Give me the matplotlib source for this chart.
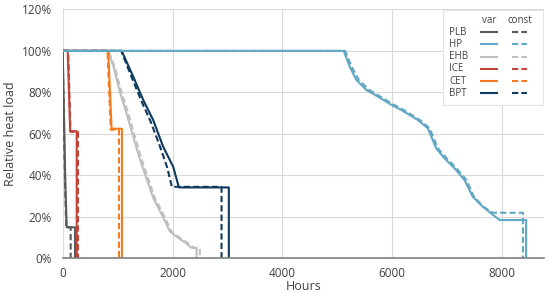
import matplotlib
matplotlib.use("Agg")
import matplotlib.pyplot as plt
from matplotlib.lines import Line2D
from matplotlib.patches import Rectangle

plt.rcParams['font.family'] = ['Open Sans', 'DejaVu Sans']

# load duration curves, hours vs relative heat load (%)
plb_var_h = [0, 30, 48, 73, 224, 224]
plb_var = [100, 60, 36, 15, 15, 0]
plb_const_h = [0, 25, 42, 65, 145, 145]
plb_const = [100, 60, 36, 15, 15, 0]

hp_var_h = [0, 5115, 5225, 5345, 5527, 5800, 5982, 6164, 6465, 6647, 6709, 6800,
            6951, 7133, 7313, 7465, 7647, 7951, 8436, 8436]
hp_var = [100, 100, 92.4, 86, 81.2, 77, 74, 71.5, 66.7, 62.7, 58.7, 53,
          48.2, 43.4, 37.8, 29.7, 24.9, 18.5, 18.5, 0]
hp_const_h = [0, 5140, 5260, 5390, 5580, 5840, 6030, 6210, 6500, 6680, 6740, 6830,
              6990, 7170, 7350, 7480, 7650, 7829, 8378, 8378]
hp_const = [100, 100, 92.4, 86, 81.2, 77, 74, 71.5, 66.7, 62.7, 58.7, 53,
            48.2, 43.4, 37.8, 30, 25, 22, 22, 0]

ehb_var_h = [0, 829, 930, 1042, 1150, 1269, 1390, 1505, 1650, 1824, 1951, 2096,
             2255, 2330, 2436, 2436]
ehb_var = [100, 100, 92, 80, 71, 60, 49, 40, 29, 20, 13, 10, 7.2, 5.3, 4.8, 0]
ehb_const_h = [0, 835, 950, 1070, 1180, 1300, 1420, 1535, 1680, 1855, 1980, 2130,
               2290, 2380, 2496, 2496]
ehb_const = [100, 100, 92, 80, 71, 60, 49, 40, 29, 20, 13, 10, 7.2, 5.3, 4.8, 0]

ice_var_h = [0, 91, 136, 255, 255]
ice_var = [100, 100, 61.3, 61.3, 0]
ice_const_h = [0, 100, 142, 278, 278]
ice_const = [100, 100, 61, 61, 0]

cet_var_h = [0, 829, 890, 1078, 1078]
cet_var = [100, 100, 62.5, 62.5, 0]
cet_const_h = [0, 815, 875, 1024, 1024]
cet_const = [100, 100, 62, 62, 0]

bpt_var_h = [0, 1073, 1284, 1465, 1647, 1829, 2011, 2115, 3024, 3024]
bpt_var = [100, 100, 87.6, 76.4, 66.7, 53.8, 44.2, 34.2, 34.2, 0]
bpt_const_h = [0, 1065, 1260, 1430, 1600, 1770, 1900, 1987, 2891, 2891]
bpt_const = [100, 100, 87, 76, 66, 54, 44, 34.5, 34.5, 0]

names = ['PLB', 'HP', 'EHB', 'ICE', 'CET', 'BPT']
colors = ['#595959', '#62A8C4', '#BFBFBF', '#C0443A', '#F47B20', '#0E3A5F']
series = [
    (plb_var_h, plb_var, plb_const_h, plb_const),
    (hp_var_h, hp_var, hp_const_h, hp_const),
    (ehb_var_h, ehb_var, ehb_const_h, ehb_const),
    (ice_var_h, ice_var, ice_const_h, ice_const),
    (cet_var_h, cet_var, cet_const_h, cet_const),
    (bpt_var_h, bpt_var, bpt_const_h, bpt_const),
]

fig = plt.figure(figsize=(5.5, 2.93), dpi=100)
ax = fig.add_axes([0.114, 0.118, 0.875, 0.850])

for name, c, s in zip(names, colors, series):
    z = 5 if name == 'HP' else 3
    ax.plot(s[0], s[1], color=c, lw=1.5, zorder=z)
    ax.plot(s[2], s[3], color=c, lw=1.5, ls=(0, (3, 1.5)), zorder=z)

ax.set_xlim(0, 8760)
ax.set_ylim(0, 120)
ax.set_xticks([0, 2000, 4000, 6000, 8000])
ax.set_yticks(range(0, 121, 20))
ax.yaxis.set_major_formatter(plt.FuncFormatter(lambda v, p: '%d%%' % v))
ax.grid(True, color='#D9D9D9', lw=0.8, zorder=0)
ax.set_axisbelow(True)
for sp in ['left', 'right', 'top']:
    ax.spines[sp].set_visible(False)
ax.spines['bottom'].set_color('#7F7F7F')
ax.spines['bottom'].set_linewidth(1.2)
ax.spines['bottom'].set_zorder(6)
ax.tick_params(length=0, labelsize=8.5, colors='#404040')
ax.tick_params(axis='y', pad=8)
ax.tick_params(axis='x', pad=6)
ax.set_xlabel('Hours', fontsize=9, color='#404040', labelpad=0)
ax.set_ylabel('Relative heat load', fontsize=9, color='#404040', labelpad=3)

# hand-made legend with var / const columns
box = Rectangle((0.790, 0.618), 0.209, 0.379, transform=ax.transAxes,
                facecolor='white', edgecolor='#E3E3E3', lw=0.8, zorder=7)
ax.add_patch(box)
ax.text(0.886, 0.957, 'var', transform=ax.transAxes, fontsize=7,
        ha='center', va='center', color='#404040', zorder=8)
ax.text(0.949, 0.957, 'const', transform=ax.transAxes, fontsize=7,
        ha='center', va='center', color='#404040', zorder=8)
for i, (name, c) in enumerate(zip(names, colors)):
    y = 0.908 - i * 0.049
    ax.text(0.803, y, name, transform=ax.transAxes, fontsize=7,
            ha='left', va='center', color='#404040', zorder=8)
    ax.add_line(Line2D([0.870, 0.902], [y, y], transform=ax.transAxes,
                       color=c, lw=1.5, zorder=8))
    ax.add_line(Line2D([0.933, 0.965], [y, y], transform=ax.transAxes,
                       color=c, lw=1.5, ls=(0, (3, 1.5)), zorder=8))

fig.savefig('out.png', dpi=100)
